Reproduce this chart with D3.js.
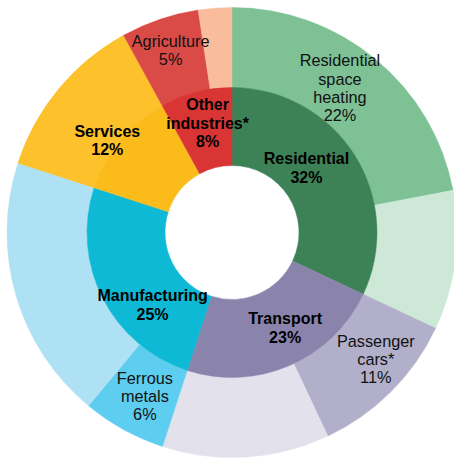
<!DOCTYPE html>
<html>
<head>
<meta charset="utf-8">
<script src="https://cdn.jsdelivr.net/npm/d3@7"></script>
<style>
  html, body { margin: 0; padding: 0; background: #fff; }
  svg { display: block; }
</style>
</head>
<body>
<svg id="chart" width="454" height="458"></svg>
<script>
// inner ring: sectors
var sectors = ["Residential", "Transport", "Manufacturing", "Services", "Other industries*"];
var sectorShares = [32, 23, 25, 12, 8];
var sectorLabels = [["Residential", "32%"], ["Transport", "23%"], ["Manufacturing", "25%"], ["Services", "12%"], ["Other", "industries*", "8%"]];

// outer ring: sub-uses inside each sector
var subParents = ["Residential", "Residential", "Transport", "Transport", "Manufacturing", "Manufacturing", "Services", "Other industries*", "Other industries*"];
var subNames = ["Residential space heating", "Other residential", "Passenger cars*", "Other transport", "Ferrous metals", "Other manufacturing", "Services", "Agriculture", "Other"];
var subShares = [22, 10, 11, 12, 6, 19, 12, 5.6, 2.4];
var subLabels = [["Residential", "space", "heating", "22%"], null, ["Passenger", "cars*", "11%"], null, ["Ferrous", "metals", "6%"], null, null, ["Agriculture", "5%"], null];

// styles
var sectorColors = ["#3d8256", "#8a84ac", "#0db9d5", "#fbbb1a", "#d93535"];
var subColors = ["#7dc195", "#cee8d7", "#b2afca", "#e3e1ec", "#5ecef0", "#aee1f4", "#fcc12b", "#da4b48", "#f9bd9d"];
// small hand nudges, like the original layout
var sectorNudge = [[-15, -8], [11, -2], [15, 24], [-43, -25], [2, -7]];
var subNudge = [[-10, -2], null, [13, -4], null, [2, 1.5], null, null, [-2, -7], null];

var cx = 232, cy = 232.5;
var r0 = 67, r1 = 145, r2 = 225;
var lineH = 18.2;

var svg = d3.select("#chart");
var g = svg.append("g").attr("transform", "translate(" + cx + "," + cy + ")");

var pie = d3.pie().sort(null).value(d => d.value);

var innerData = pie(sectors.map((s, i) => ({name: s, value: sectorShares[i], i: i})));
var outerData = pie(subNames.map((s, i) => ({name: s, parent: subParents[i], value: subShares[i], i: i})));

var innerArc = d3.arc().innerRadius(r0).outerRadius(r1);
var outerArc = d3.arc().innerRadius(r1).outerRadius(r2);

// outer ring first
g.selectAll("path.outer")
  .data(outerData)
  .enter()
  .append("path")
  .attr("class", "outer")
  .attr("d", outerArc)
  .attr("fill", d => subColors[d.data.i])
  .attr("stroke", d => subColors[d.data.i])
  .attr("stroke-width", 0.5);

g.selectAll("path.inner")
  .data(innerData)
  .enter()
  .append("path")
  .attr("class", "inner")
  .attr("d", innerArc)
  .attr("fill", d => sectorColors[d.data.i])
  .attr("stroke", d => sectorColors[d.data.i])
  .attr("stroke-width", 0.5);

function addLabel(pos, lines, bold) {
  var t = g.append("text")
    .attr("text-anchor", "middle")
    .attr("font-family", "'Liberation Sans', Arial, sans-serif")
    .attr("font-size", bold ? "16px" : "16.3px")
    .attr("font-weight", bold ? "bold" : "normal")
    .attr("fill", bold ? "#000" : "#111");
  lines.forEach(function(line, i) {
    t.append("tspan")
      .attr("x", pos[0])
      .attr("y", pos[1] + 5.8 + (i - (lines.length - 1) / 2) * lineH)
      .text(line);
  });
}

outerData.forEach(function(d) {
  var lines = subLabels[d.data.i];
  if(!lines) return;
  var c = outerArc.centroid(d);
  var n = subNudge[d.data.i];
  addLabel([c[0] + n[0], c[1] + n[1]], lines, false);
});

innerData.forEach(function(d) {
  var c = innerArc.centroid(d);
  var n = sectorNudge[d.data.i];
  addLabel([c[0] + n[0], c[1] + n[1]], sectorLabels[d.data.i], true);
});
</script>
</body>
</html>
